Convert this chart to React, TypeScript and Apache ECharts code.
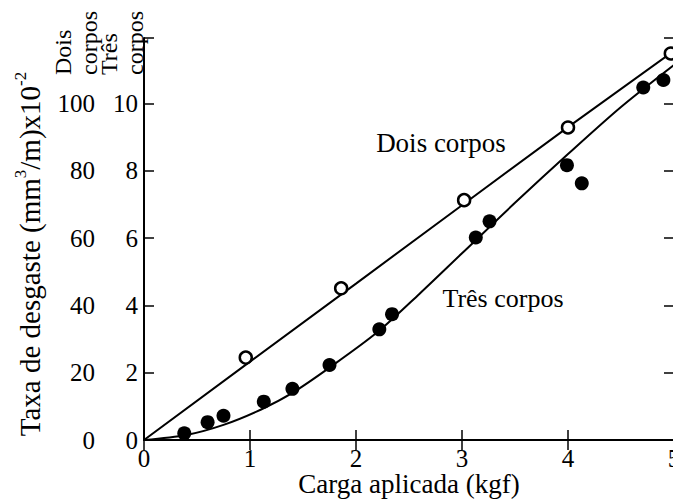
import React, { useEffect, useRef } from "react";
import * as echarts from "echarts";

// Dois corpos (open circles) — left outer scale 0..100
const doisLoad = [0.96, 1.86, 3.02, 4.0, 4.97];
const doisRate = [24.5, 45.1, 71.3, 92.9, 114.9];
const doisFitLoad = [0, 1, 2, 3, 4, 5];
const doisFitRate = [0, 23.3, 46.5, 69.8, 93, 115.7];

// Três corpos (filled circles) — inner scale 0..10
const tresLoad = [0.38, 0.6, 0.75, 1.13, 1.4, 1.75, 2.22, 2.34, 3.13, 3.26, 3.99, 4.13, 4.71, 4.9];
const tresRate = [0.2, 0.53, 0.72, 1.14, 1.52, 2.23, 3.29, 3.74, 6.02, 6.5, 8.17, 7.63, 10.48, 10.7];
const tresFitLoad = [0, 0.4, 0.75, 1.1, 1.4, 1.75, 2.2, 2.6, 3.0, 3.5, 4.0, 4.5, 5.0];
const tresFitRate = [0, 0.15, 0.45, 0.9, 1.4, 2.15, 3.2, 4.35, 5.55, 7.05, 8.5, 9.9, 11.15];

const xMin = 0;
const xMax = 5;
const xStep = 1;
const innerMax = 11.95;
const innerStep = 2;
const outerMax = 119.5;
const outerStep = 20;

const FONT = "Times New Roman";

const zip = (a: number[], b: number[]) => a.map((v, i) => [v, b[i]]);

export default function App() {
  const ref = useRef<HTMLDivElement>(null);
  useEffect(() => {
    if (!ref.current) return;
    const chart = echarts.init(ref.current, null, { renderer: "svg" });
    const axisLine = { show: true, lineStyle: { color: "#000", width: 2 } };
    const tick = { show: true, inside: true, length: 10, lineStyle: { color: "#000", width: 1.5 } };
    const intLabel = (step: number) => (v: number) =>
      Math.abs(v / step - Math.round(v / step)) < 1e-6 ? String(v) : "";
    chart.setOption({
      animation: false,
      backgroundColor: "#fff",
      textStyle: { fontFamily: FONT },
      grid: [
        { left: 144, top: 38, width: 530, height: 402, containLabel: false, outerBoundsMode: "none" },
        { left: 103, top: 38, width: 1, height: 402, containLabel: false, outerBoundsMode: "none" },
      ],
      xAxis: [
        {
          type: "value",
          gridIndex: 0,
          position: "bottom",
          min: xMin,
          max: xMax,
          interval: xStep,
          axisLine,
          axisTick: tick,
          splitLine: { show: false },
          axisLabel: { color: "#000", fontFamily: FONT, fontSize: 25, margin: 6 },
          name: "Carga aplicada (kgf)",
          nameLocation: "middle",
          nameGap: 30,
          nameMoveOverlap: false,
          nameTextStyle: { color: "#000", fontFamily: FONT, fontSize: 27 },
        },
        {
          type: "value",
          gridIndex: 0,
          position: "top",
          min: xMin,
          max: xMax,
          interval: xStep,
          axisLine,
          axisTick: tick,
          splitLine: { show: false },
          axisLabel: { show: false },
        },
        {
          type: "value",
          gridIndex: 1,
          min: 0,
          max: 1,
          show: false,
        },
      ],
      yAxis: [
        {
          type: "value",
          gridIndex: 0,
          position: "left",
          min: 0,
          max: innerMax,
          interval: innerStep,
          axisLine,
          axisTick: tick,
          splitLine: { show: false },
          axisLabel: {
            color: "#000",
            fontFamily: FONT,
            fontSize: 25,
            margin: 6,
            formatter: intLabel(innerStep),
          },
        },
        {
          type: "value",
          gridIndex: 0,
          position: "left",
          min: 0,
          max: outerMax,
          show: false,
        },
        {
          type: "value",
          gridIndex: 0,
          position: "right",
          min: 0,
          max: innerMax,
          interval: innerStep,
          axisLine,
          axisTick: tick,
          splitLine: { show: false },
          axisLabel: { show: false },
        },
        {
          type: "value",
          gridIndex: 1,
          position: "left",
          min: 0,
          max: outerMax,
          interval: outerStep,
          axisLine: { show: false },
          axisTick: { show: false },
          splitLine: { show: false },
          axisLabel: {
            color: "#000",
            fontFamily: FONT,
            fontSize: 25,
            margin: 8,
            formatter: intLabel(outerStep),
          },
        },
      ],
      series: [
        {
          name: "Dois corpos ajuste",
          type: "line",
          xAxisIndex: 0,
          yAxisIndex: 1,
          data: zip(doisFitLoad, doisFitRate),
          symbol: "none",
          lineStyle: { color: "#000", width: 2 },
          z: 2,
        },
        {
          name: "Dois corpos",
          type: "scatter",
          xAxisIndex: 0,
          yAxisIndex: 1,
          data: zip(doisLoad, doisRate),
          symbol: "circle",
          symbolSize: 12,
          itemStyle: { color: "#fff", borderColor: "#000", borderWidth: 2.5, opacity: 1 },
          z: 3,
        },
        {
          name: "Três corpos ajuste",
          type: "line",
          xAxisIndex: 0,
          yAxisIndex: 0,
          data: zip(tresFitLoad, tresFitRate),
          symbol: "none",
          smooth: 0.3,
          lineStyle: { color: "#000", width: 2 },
          z: 2,
        },
        {
          name: "Três corpos",
          type: "scatter",
          xAxisIndex: 0,
          yAxisIndex: 0,
          data: zip(tresLoad, tresRate),
          symbol: "circle",
          symbolSize: 14,
          itemStyle: { color: "#000", opacity: 1 },
          z: 3,
        },
      ],
      graphic: [
        {
          type: "text",
          x: 28,
          y: 254,
          rotation: Math.PI / 2,
          style: {
            text: "{a|Taxa de desgaste (mm}{s|3}{a|/m)x10}{s|-2}",
            align: "center",
            verticalAlign: "middle",
            fill: "#000",
            fontFamily: FONT,
            rich: {
              a: { fontFamily: FONT, fontSize: 29, lineHeight: 32, verticalAlign: "bottom", fill: "#000" },
              s: { fontFamily: FONT, fontSize: 17, lineHeight: 32, verticalAlign: "top", fill: "#000" },
            },
          },
        },
        {
          type: "text",
          x: 76,
          y: 75,
          rotation: Math.PI / 2,
          style: {
            text: "Dois\ncorpos",
            align: "left",
            verticalAlign: "middle",
            fontFamily: FONT,
            fontSize: 24,
            lineHeight: 26,
            fill: "#000",
          },
        },
        {
          type: "text",
          x: 122,
          y: 75,
          rotation: Math.PI / 2,
          style: {
            text: "Três\ncorpos",
            align: "left",
            verticalAlign: "middle",
            fontFamily: FONT,
            fontSize: 24,
            lineHeight: 26,
            fill: "#000",
          },
        },
        {
          type: "text",
          x: 441,
          y: 143,
          style: {
            text: "Dois corpos",
            align: "center",
            verticalAlign: "middle",
            fontFamily: FONT,
            fontSize: 27,
            fill: "#000",
          },
        },
        {
          type: "text",
          x: 503,
          y: 298,
          style: {
            text: "Três corpos",
            align: "center",
            verticalAlign: "middle",
            fontFamily: FONT,
            fontSize: 26,
            fill: "#000",
          },
        },
      ],
    });
    return () => chart.dispose();
  }, []);
  return <div ref={ref} style={{ width: 673, height: 502, position: "absolute", left: 0, top: 0 }} />;
}
